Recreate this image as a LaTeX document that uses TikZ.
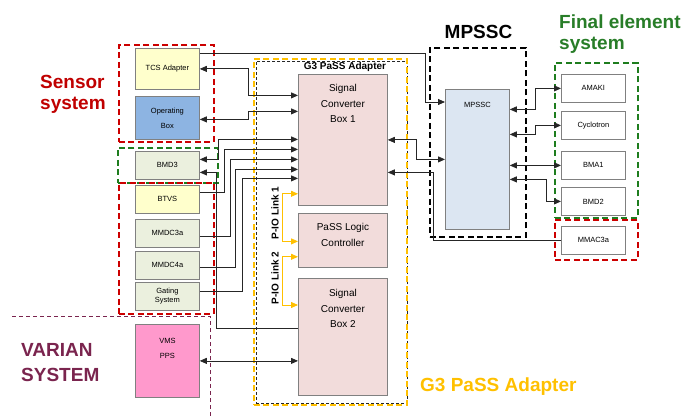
\documentclass[tikz,border=0pt]{standalone}
\usepackage{fontspec}
\setmainfont{Liberation Sans}
\usepackage{tikz}
\usetikzlibrary{arrows.meta,positioning}

\definecolor{sensorred}{RGB}{192,0,0}
\definecolor{framered}{RGB}{204,0,0}
\definecolor{framegreen}{RGB}{30,125,30}
\definecolor{finalgreen}{RGB}{40,125,40}
\definecolor{varianmaroon}{RGB}{122,36,78}
\definecolor{passyellow}{RGB}{255,192,0}
\definecolor{boxgray}{RGB}{128,128,128}
\definecolor{tcsfill}{RGB}{255,255,204}
\definecolor{opfill}{RGB}{141,180,226}
\definecolor{bmdfill}{RGB}{235,240,222}
\definecolor{vmsfill}{RGB}{255,153,204}
\definecolor{scbfill}{RGB}{242,220,219}
\definecolor{mpsscfill}{RGB}{220,230,242}

\tikzstyle{block}    = [rectangle,
                        draw=boxgray,
                        line width=0.8pt,
                        anchor=north west,
                        inner sep=0pt,
                        minimum width=64,
                        font=\fontsize{7.5}{9}\selectfont,
                        align=center]
\tikzstyle{line}     = [draw, line width=0.8pt, black!85, -{Triangle[length=7pt,width=6pt]}]
\tikzstyle{biline}   = [line, {Triangle[length=7pt,width=6pt]}-{Triangle[length=7pt,width=6pt]}]

\begin{document}
\begin{tikzpicture}[%
  x=1pt, y=-1pt,
  every node/.style={inner sep=0pt},
  big/.style={font=\fontsize{19}{21}\selectfont\bfseries, align=left},
  frame/.style={rectangle, anchor=north west, line width=1.6pt, dash pattern=on 6pt off 3.5pt},
  boxtext/.style={font=\fontsize{10}{15.5}\selectfont, align=center, anchor=north},
  pio/.style={draw=passyellow, line width=0.8pt, {Triangle[length=7pt,width=6pt]}-{Triangle[length=7pt,width=6pt]}},
  varian/.style={draw=varianmaroon, line width=0.9pt, dash pattern=on 4pt off 3pt}
  ]
  \useasboundingbox (0,0) rectangle (697,417);

  % Frames:
  \node (bmd3-frame) [frame, draw=framegreen, minimum width=100, minimum height=35] at (117,147) {};
  \node (sensor-top) [frame, draw=framered, minimum width=95, minimum height=97] at (118,44) {};
  \node (sensor-bot) [frame, draw=framered, minimum width=95, minimum height=131] at (118,182) {};
  \node (g3-inner) [rectangle, anchor=north west, draw=black!85, line width=0.7pt, dash pattern=on 3pt off 2pt, minimum width=151, minimum height=342] at (256,61) {};
  \node (g3-outer) [frame, draw=passyellow, minimum width=153, minimum height=346] at (253,58) {};
  \node (mpssc-frame) [frame, draw=black, minimum width=96, minimum height=189] at (429,47) {};
  \node (final-frame) [frame, draw=framegreen, minimum width=83, minimum height=155] at (554,62) {};
  \node (mmac-frame) [frame, draw=framered, minimum width=83, minimum height=40] at (554,219) {};
  \draw[varian] (12,316) -- (210,316) -- (210,417);

  % Labels:
  \node (sensor-label) [big, text=sensorred, anchor=west] at (40,94.5) {Sensor\\system};
  \node (varian-label) [big, text=varianmaroon, anchor=west, font=\fontsize{19}{25}\selectfont\bfseries] at (21,362.5) {VARIAN\\SYSTEM};
  \node (mpssc-label) [big] at (478.5,32) {MPSSC};
  \node (final-label) [big, text=finalgreen, anchor=west] at (559,34.3) {Final element\\system};
  \node (g3-label) [big, text=passyellow, anchor=west] at (420,387) {G3 PaSS Adapter};
  \node (g3-title) [font=\fontsize{10}{12}\selectfont\bfseries] at (345,67) {G3 PaSS Adapter};

  % Nodes:
  \node (tcs)    [block, fill=tcsfill, minimum height=41] at (135,48) {TCS Adapter};
  \node (opbox)  [block, fill=opfill, minimum height=43, font=\fontsize{7.5}{15}\selectfont] at (135,96) {Operating\\Box};
  \node (bmd3)   [block, fill=bmdfill, minimum height=28] at (135,151) {BMD3};
  \node (btvs)   [block, fill=tcsfill, minimum height=28] at (135,185) {BTVS};
  \node (mmdc3a) [block, fill=bmdfill, minimum height=28] at (135,219) {MMDC3a};
  \node (mmdc4a) [block, fill=bmdfill, minimum height=28] at (135,251) {MMDC4a};
  \node (gating) [block, fill=bmdfill, minimum height=28] at (135,282) {Gating\\System};
  \node (vms)    [block, fill=vmsfill, minimum height=73,
                  label={[font=\fontsize{7.5}{15}\selectfont, align=center, anchor=north, yshift=-14pt]north:{VMS\\PPS}}] at (135,324) {};

  \node (scb1) [block, fill=scbfill, minimum width=89, minimum height=131,
                label={[boxtext, yshift=-10.5pt]north:{Signal\\Converter\\Box 1}}] at (298,74) {};
  \node (plc)  [block, fill=scbfill, minimum width=89, minimum height=54,
                label={[boxtext, yshift=-10.5pt]north:{PaSS Logic\\Controller}}] at (298,213) {};
  \node (scb2) [block, fill=scbfill, minimum width=89, minimum height=117,
                label={[boxtext, yshift=-11.5pt]north:{Signal\\Converter\\Box 2}}] at (298,278) {};
  \node (link1) [rotate=90, font=\fontsize{10}{12}\selectfont\bfseries] at (275,213) {P-IO Link 1};
  \node (link2) [rotate=90, font=\fontsize{10}{12}\selectfont\bfseries] at (275,278) {P-IO Link 2};

  \node (mpssc) [block, fill=mpsscfill, minimum width=64, minimum height=140,
                 label={[font=\fontsize{7.5}{9}\selectfont, anchor=north, yshift=-13.3pt]north:MPSSC}] at (445,89) {};

  \node (amaki)     [block, fill=white, minimum height=28] at (561,74) {AMAKI};
  \node (cyclotron) [block, fill=white, minimum height=28] at (561,111) {Cyclotron};
  \node (bma1)      [block, fill=white, minimum height=28] at (561,151) {BMA1};
  \node (bmd2)      [block, fill=white, minimum height=28] at (561,187) {BMD2};
  \node (mmac3a)    [block, fill=white, minimum height=28] at (561,226) {MMAC3a};

  % Connectors:
  \draw[line]   ([yshift=15.5pt]tcs.east) -- ++(226,0) |- ([yshift=-13pt]mpssc.north west);
  \draw[biline] (tcs.east) -- ++(49,0) |- ([yshift=44.5pt]scb1.west);
  \draw[biline] ([yshift=-1.5pt]opbox.east) -- ++(49,0) |- ([yshift=28.5pt]scb1.west);
  \draw[biline] ([yshift=6pt]bmd3.east) -- ++(19,0) |- ([yshift=0.5pt]scb1.west);
  \draw[line]   ([yshift=7pt]btvs.east) -- ++(25,0) |- ([yshift=-9.5pt]scb1.west);
  \draw[line]   ([yshift=-3pt]mmdc3a.east) -- ++(31,0) |- ([yshift=-19.5pt]scb1.west);
  \draw[line]   ([yshift=-2pt]mmdc4a.east) -- ++(36,0) |- ([yshift=-29.5pt]scb1.west);
  \draw[line]   ([yshift=5pt]gating.east) -- ++(43,0) |- ([yshift=-38.5pt]scb1.west);
  \draw[line]   ([yshift=8.5pt]scb2.west) -- ++(-82,0) |- ([yshift=-7pt]bmd3.east);
  \draw[biline] (vms.east) -- (vms.east -| scb2.west);
  \draw[pio]    ([yshift=12pt]scb1.south west) -- ++(-16,0) |- ([yshift=-1pt]plc.west);
  \draw[pio]    ([yshift=11pt]plc.south west) -- ++(-16,0) |- ([yshift=-27pt]scb2.north west);
  \draw[biline] (scb1.east) -- ++(29,0) |- (mpssc.west);
  \draw[line]   (mmac3a.west) -- ++(-128,0) |- ([yshift=-32.5pt]scb1.east);
  \draw[biline] ([yshift=50pt]mpssc.east) -- ++(26,0) |- (amaki.west);
  \draw[biline] ([yshift=25pt]mpssc.east) -- ++(26,0) |- (cyclotron.west);
  \draw[biline] (mpssc.east |- bma1.west) -- (bma1.west);
  \draw[biline] ([yshift=-20pt]mpssc.east) -- ++(37,0) |- (bmd2.west);
\end{tikzpicture}
\end{document}
